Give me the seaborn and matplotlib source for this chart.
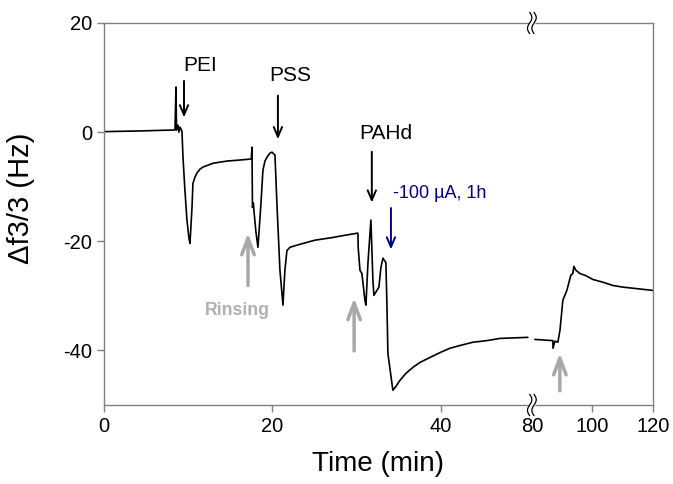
import numpy as np
import pandas as pd
import matplotlib
matplotlib.use("Agg")
import matplotlib.pyplot as plt
import seaborn as sns

# QCM trace, first part (0 - ~50 min)
t_early = [0, 4.27, 8.43, 8.55, 8.61, 8.78, 8.90, 9.02, 9.26, 9.38, 9.61, 9.85,
           10.09, 10.21, 10.45, 10.56, 10.80, 11.04, 11.39, 11.75, 12.34, 12.94,
           13.77, 14.60, 15.90, 17.33, 17.50, 17.57, 17.63, 17.74, 17.80, 18.04,
           18.28, 18.64, 18.87, 19.11, 19.35, 19.70, 19.94, 20.06, 20.30, 20.53,
           20.89, 21.25, 21.48, 21.72, 22.08, 23.26, 24.10, 25.04, 27.18, 28.60,
           30.15, 30.18, 30.39, 30.62, 30.98, 31.10, 31.34, 31.69, 31.93, 32.05,
           32.40, 32.64, 32.88, 33.12, 33.47, 33.59, 33.71, 34.30, 34.66, 35.13,
           35.85, 36.68, 37.51, 38.69, 39.88, 41.07, 42.26, 43.80, 45.46, 47.00,
           48.66, 50.33]
f_early = [0.09, 0.22, 0.40, 8.26, 0.37, 1.28, 0.0, 0.92, 0.18, -4.59, -10.64, -16.1,
           -19.45, -20.4, -13.8, -9.4, -8.26, -7.5, -6.79, -6.4, -6.06, -5.7,
           -5.50, -5.3, -5.14, -4.95, -4.8, -2.75, -13.8, -13.0, -14.3, -18.3,
           -21.1, -13.0, -7.0, -5.3, -4.6, -3.85, -3.67, -3.85, -4.2, -13.0,
           -25.3, -31.7, -25.3, -21.7, -21.1, -20.55, -20.2, -19.8, -19.3, -18.9,
           -18.5, -21.1, -25.3, -25.9, -30.8, -31.7, -24.0, -16.1, -27.2, -29.9,
           -29.0, -28.4, -24.8, -23.1, -23.9, -31.4, -40.6, -47.3, -46.6, -45.5,
           -44.2, -43.1, -42.2, -41.3, -40.4, -39.6, -39.1, -38.5, -38.2, -37.8,
           -37.7, -37.6]

# second part, after the axis break
t_late = [80.99, 86.94, 87.0, 87.6, 88.6, 89.3, 90.25, 91.57, 92.9, 93.55, 93.88,
          94.55, 95.87, 97.85, 100.2, 103.5, 106.8, 110.1, 113.4, 116.7, 120.0]
f_late = [-37.98, -38.2, -39.6, -38.3, -38.5, -36.3, -30.8, -29.0, -26.2, -25.9, -24.6,
          -25.3, -25.9, -26.3, -27.0, -27.5, -28.1, -28.4, -28.6, -28.8, -29.0]

x_ticks = [0, 20, 40, 80, 100, 120]
y_ticks = [20, 0, -20, -40]

# broken time axis: 0..T1 at full scale, 80..120 compressed
T1 = 50.8
K = 0.359


def forward(t):
    t = np.asarray(t, dtype=float)
    return np.where(t <= T1, t, np.where(t < 80, T1, T1 + (t - 80) * K))


def inverse(u):
    u = np.asarray(u, dtype=float)
    return np.where(u <= T1, u, 80 + (u - T1) / K)


sns.set_style("white")
plt.rcParams["font.family"] = ["Liberation Sans", "DejaVu Sans"]
plt.rcParams["axes.unicode_minus"] = False
plt.rcParams["text.color"] = "black"
plt.rcParams["axes.labelcolor"] = "black"

fig = plt.figure(figsize=(6.73, 4.84), dpi=100)
ax = fig.add_axes([0.1545, 0.1632, 0.8155, 0.7893])
ax.set_xscale("function", functions=(forward, inverse))

df1 = pd.DataFrame({"t": t_early, "f": f_early})
df2 = pd.DataFrame({"t": t_late, "f": f_late})
for d in (df1, df2):
    sns.lineplot(data=d, x="t", y="f", ax=ax, color="black", lw=1.2,
                 sort=False, estimator=None)

ax.set_xlim(0, 120)
ax.set_ylim(-50, 20)
ax.set_xticks(x_ticks)
ax.set_xticklabels([str(v) for v in x_ticks])
ax.set_yticks(y_ticks)
ax.set_yticklabels([str(v) for v in y_ticks])
ax.tick_params(direction="out", length=5, width=1, color="#808080",
               labelcolor="black", labelsize=14.5, bottom=True, left=True)
for s in ax.spines.values():
    s.set_color("#808080")
    s.set_linewidth(1)

ax.set_xlabel("Time (min)", fontsize=20)
ax.set_ylabel("Δf3/3 (Hz)", fontsize=21)
ax.xaxis.set_label_coords(0.5, -0.12)
ax.yaxis.set_label_coords(-0.125, 0.54)

# break markers
xb_ax = T1 / (T1 + 40 * K)
yy = np.linspace(-0.028, 0.028, 30)
wig = 0.004 * np.sin(yy / 0.028 * np.pi)
for y0 in (0, 1):
    ax.fill_betweenx(y0 + yy, xb_ax - 0.004 + wig, xb_ax + 0.004 + wig,
                     color="white", transform=ax.transAxes, clip_on=False, zorder=5)
    for dx in (-0.004, 0.004):
        ax.plot(xb_ax + dx + wig, y0 + yy, color="black", lw=0.9,
                transform=ax.transAxes, clip_on=False, zorder=6)

# labels and arrows
black_arrow = dict(arrowstyle="->,head_length=0.7,head_width=0.3", color="black", lw=1.4)
ax.annotate("", xy=(9.5, 2.2), xytext=(9.5, 9.9), arrowprops=black_arrow)
ax.text(11.4, 12.3, "PEI", fontsize=15, ha="center", va="center")
ax.annotate("", xy=(20.65, -1.8), xytext=(20.65, 7.2), arrowprops=black_arrow)
ax.text(22.1, 10.3, "PSS", fontsize=15, ha="center", va="center")
ax.annotate("", xy=(31.8, -13.4), xytext=(31.8, -3.1), arrowprops=black_arrow)
ax.text(33.5, -0.2, "PAHd", fontsize=15, ha="center", va="center")

blue = "#000080"
ax.annotate("", xy=(34.07, -22.0), xytext=(34.07, -13.4),
            arrowprops=dict(arrowstyle="->,head_length=0.7,head_width=0.3", color=blue, lw=1.4))
ax.text(34.3, -11.2, "-100 µA, 1h", fontsize=13, color=blue, ha="left", va="center")

gray = "#a8a8a8"
gray_arrow = dict(arrowstyle="->,head_length=1.2,head_width=0.45", color=gray, lw=2.5)
ax.annotate("", xy=(17.1, -18.0), xytext=(17.1, -28.6), arrowprops=gray_arrow)
ax.text(15.8, -32.7, "Rinsing", fontsize=12.8, color="#b0b0b0",
        fontweight="bold", ha="center", va="center")
ax.annotate("", xy=(29.7, -29.9), xytext=(29.7, -40.6), arrowprops=gray_arrow)
ax.annotate("", xy=(89.26, -40.0), xytext=(89.26, -47.9), arrowprops=gray_arrow)

fig.savefig("out.png", dpi=100)
